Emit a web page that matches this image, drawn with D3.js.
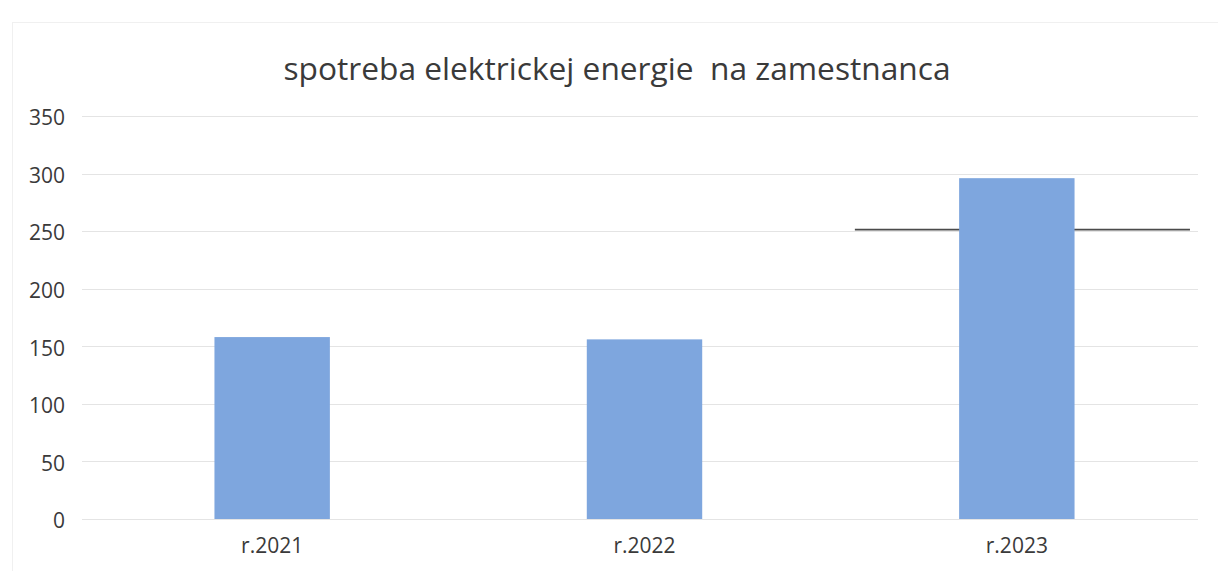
<!DOCTYPE html>
<html>
<head>
<meta charset="utf-8">
<script src="https://cdn.jsdelivr.net/npm/d3@7"></script>
<style>
  body { margin: 0; background: #fff; }
  text { font-family: "Open Sans", sans-serif; fill: #3a3a3a; }
</style>
</head>
<body>
<div id="chart"></div>
<script>
// chart data
const categories = ["r.2021", "r.2022", "r.2023"];
const values = [158, 156, 296];
const yTicks = [0, 50, 100, 150, 200, 250, 300, 350];
const title = "spotreba elektrickej energie\u00a0 na zamestnanca";
// hand drawn mark across the last category
const markCategory = "r.2023";
const markValue = 250;

const width = 1218, height = 571;

const svg = d3.select("#chart")
    .append("svg")
    .attr("width", width)
    .attr("height", height);

// faint chart border from the scan
svg.append("rect")
    .attr("x", 12.5)
    .attr("y", 22.5)
    .attr("width", width + 20)
    .attr("height", height)
    .attr("fill", "none")
    .attr("stroke", "#f0f0f0");

const x = d3.scaleBand()
    .domain(categories)
    .range([86, 1203])
    .paddingInner(0.69)
    .paddingOuter(0.345);

const y = d3.scaleLinear()
    .domain([0, 350])
    .range([519, 116]);

// gridlines
svg.append("g")
    .selectAll("line")
    .data(yTicks)
    .enter()
    .append("line")
    .attr("x1", 82)
    .attr("x2", 1198)
    .attr("y1", d => Math.round(y(d)) + 0.5)
    .attr("y2", d => Math.round(y(d)) + 0.5)
    .attr("stroke", "#e4e4e4")
    .attr("stroke-width", 1.2);

// Y axis labels
svg.append("g")
    .attr("transform", "translate(65,2)")
    .call(d3.axisLeft(y).tickValues(yTicks).tickSize(0).tickPadding(0))
    .call(g => g.select(".domain").remove())
    .selectAll("text")
    .style("font-size", "21px")
    .attr("fill", "#3a3a3a");

// dark mark at 250
const step = x.step();
svg.append("line")
    .attr("x1", x(markCategory) - step * 0.28)
    .attr("x2", x(markCategory) + x.bandwidth() + step * 0.31)
    .attr("y1", y(markValue) - 1.5)
    .attr("y2", y(markValue) - 1.5)
    .attr("stroke", "#4a4a4a")
    .attr("stroke-width", 1.6);

// Bars
svg.selectAll("bar")
    .data(values)
    .enter()
    .append("rect")
    .attr("x", (d, i) => x(categories[i]))
    .attr("y", d => y(d))
    .attr("width", x.bandwidth())
    .attr("height", d => y(0) - y(d))
    .attr("fill", "#7ea6de");

// X axis labels
svg.append("g")
    .attr("transform", "translate(0," + y(0) + ")")
    .call(d3.axisBottom(x).tickSize(0).tickPadding(19))
    .call(g => g.select(".domain").remove())
    .selectAll("text")
    .style("font-size", "21px")
    .attr("fill", "#3a3a3a");

// Title
svg.append("text")
    .attr("x", 617)
    .attr("y", 80)
    .attr("text-anchor", "middle")
    .style("font-size", "31.7px")
    .text(title);
</script>
</body>
</html>
